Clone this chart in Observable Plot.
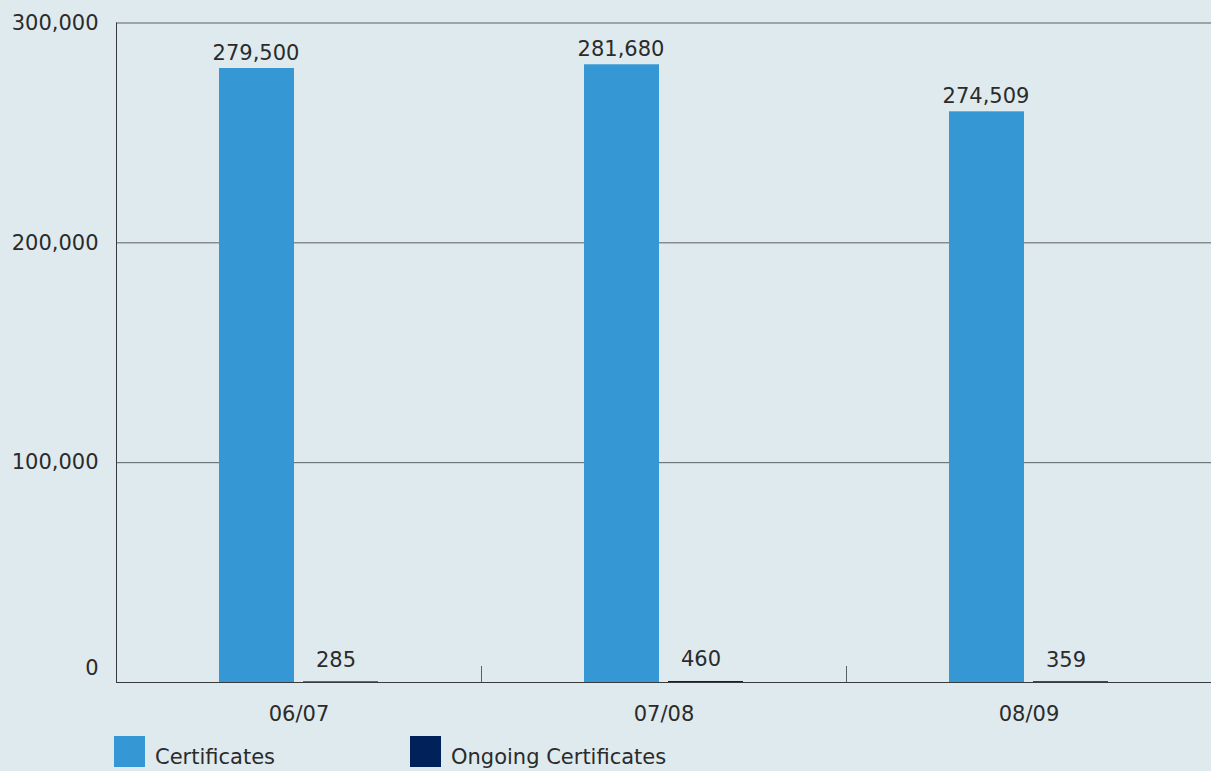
<!DOCTYPE html>
<html><head><meta charset="utf-8">
<script src="https://cdn.jsdelivr.net/npm/d3@7"></script>
<script src="https://cdn.jsdelivr.net/npm/@observablehq/plot@0.6"></script>
<style>
html,body{margin:0;padding:0;background:#dfeaee;}
body{width:1211px;height:771px;overflow:hidden;font-family:"DejaVu Sans",Verdana,sans-serif;color:#2b2b2b;}
#chart svg{display:block;}
#legend{position:relative;height:46px;}
.item{position:absolute;top:11px;display:flex;align-items:flex-end;}
.sw{width:31px;height:31px;flex:none;}
.lab{font-size:21px;margin-left:10px;line-height:21px;position:relative;top:1px;white-space:nowrap;}
</style></head><body>
<div id="chart"></div>
<div id="legend"></div>
<script>
// ---- data ----
const years = ["06/07", "07/08", "08/09"];
const seriesNames = ["Certificates", "Ongoing Certificates"];
const certificatesBar = [279300, 281000, 259600];      // bar heights as drawn
const certificatesLabel = ["279,500", "281,680", "274,509"]; // printed labels
const ongoingCertificates = [285, 460, 359];
const yTicks = [0, 100000, 200000, 300000];
const seriesColors = ["#3598d4", "#002159"];

// ---- rows ----
const rows = [];
years.forEach((yr, i) => {
  rows.push({year: yr, series: seriesNames[0], value: certificatesBar[i], label: certificatesLabel[i]});
  rows.push({year: yr, series: seriesNames[1], value: ongoingCertificates[i], label: d3.format(",")(ongoingCertificates[i])});
});
const certRows = rows.filter(d => d.series === seriesNames[0]);
const ongRows = rows.filter(d => d.series === seriesNames[1]);

const font = '"DejaVu Sans", Verdana, sans-serif';
const plot = Plot.plot({
  width: 1211, height: 725,
  marginLeft: 115, marginRight: 0, marginTop: 22.5, marginBottom: 43,
  style: {background: "transparent", fontFamily: font, fontSize: "21px", color: "#2b2b2b"},
  fx: {domain: years, padding: 0, axis: null, label: null},
  x: {domain: seriesNames, paddingInner: 0.107, paddingOuter: 1.226, axis: null, round: false, label: null},
  y: {domain: [0, 300000], axis: null, label: null},
  color: {domain: seriesNames, range: seriesColors},
  marks: [
    Plot.ruleY(yTicks.filter(d => d > 0), {stroke: "#5a5f63", strokeWidth: 1}),
    Plot.barY(rows, {fx: "year", x: "series", y: "value", fill: "series"}),
    Plot.text(certRows, {fx: "year", x: "series", y: "value", text: "label", lineAnchor: "bottom", dy: -9, dx: -1, fill: "#2b2b2b"}),
    Plot.text(ongRows, {fx: "year", x: "series", y: "value", text: "label", lineAnchor: "bottom", dy: -15, dx: -5, fill: "#2b2b2b"}),
    Plot.ruleY([0], {stroke: "#3a3a3a", strokeWidth: 1}),
    Plot.axisY(yTicks.filter(d => d > 0), {tickSize: 0, tickPadding: 18, tickFormat: d3.format(","), facetAnchor: "left", fill: "#2b2b2b", label: null}),
    Plot.axisY([0], {tickSize: 0, tickPadding: 18, tickFormat: d3.format(","), facetAnchor: "left", dy: -14, fill: "#2b2b2b", label: null}),
    Plot.axisFx({anchor: "bottom", tickSize: 0, tickPadding: 24, fill: "#2b2b2b", label: null}),
    Plot.frame({anchor: "left", facetAnchor: "left", stroke: "#3a3a3a"})
  ]
});
document.getElementById("chart").appendChild(plot);

// separator ticks between groups, positioned from the library's scales
const fxS = plot.scale("fx"), yS = plot.scale("y");
const svg = d3.select(plot);
years.slice(1).forEach(yr => {
  const x = Math.round(fxS.apply(yr)) + 0.5;
  svg.append("line").attr("x1", x).attr("x2", x)
    .attr("y1", yS.apply(0)).attr("y2", yS.apply(0) - 16)
    .attr("stroke", "#5a5f63").attr("stroke-width", 1);
});

// legend
const legend = document.getElementById("legend");
const legendLeft = [114, 410];
seriesNames.forEach((name, i) => {
  const it = document.createElement("div");
  it.className = "item";
  it.style.left = legendLeft[i] + "px";
  it.innerHTML = `<div class="sw" style="background:${seriesColors[i]}"></div><div class="lab">${name}</div>`;
  legend.appendChild(it);
});
</script>
</body></html>
